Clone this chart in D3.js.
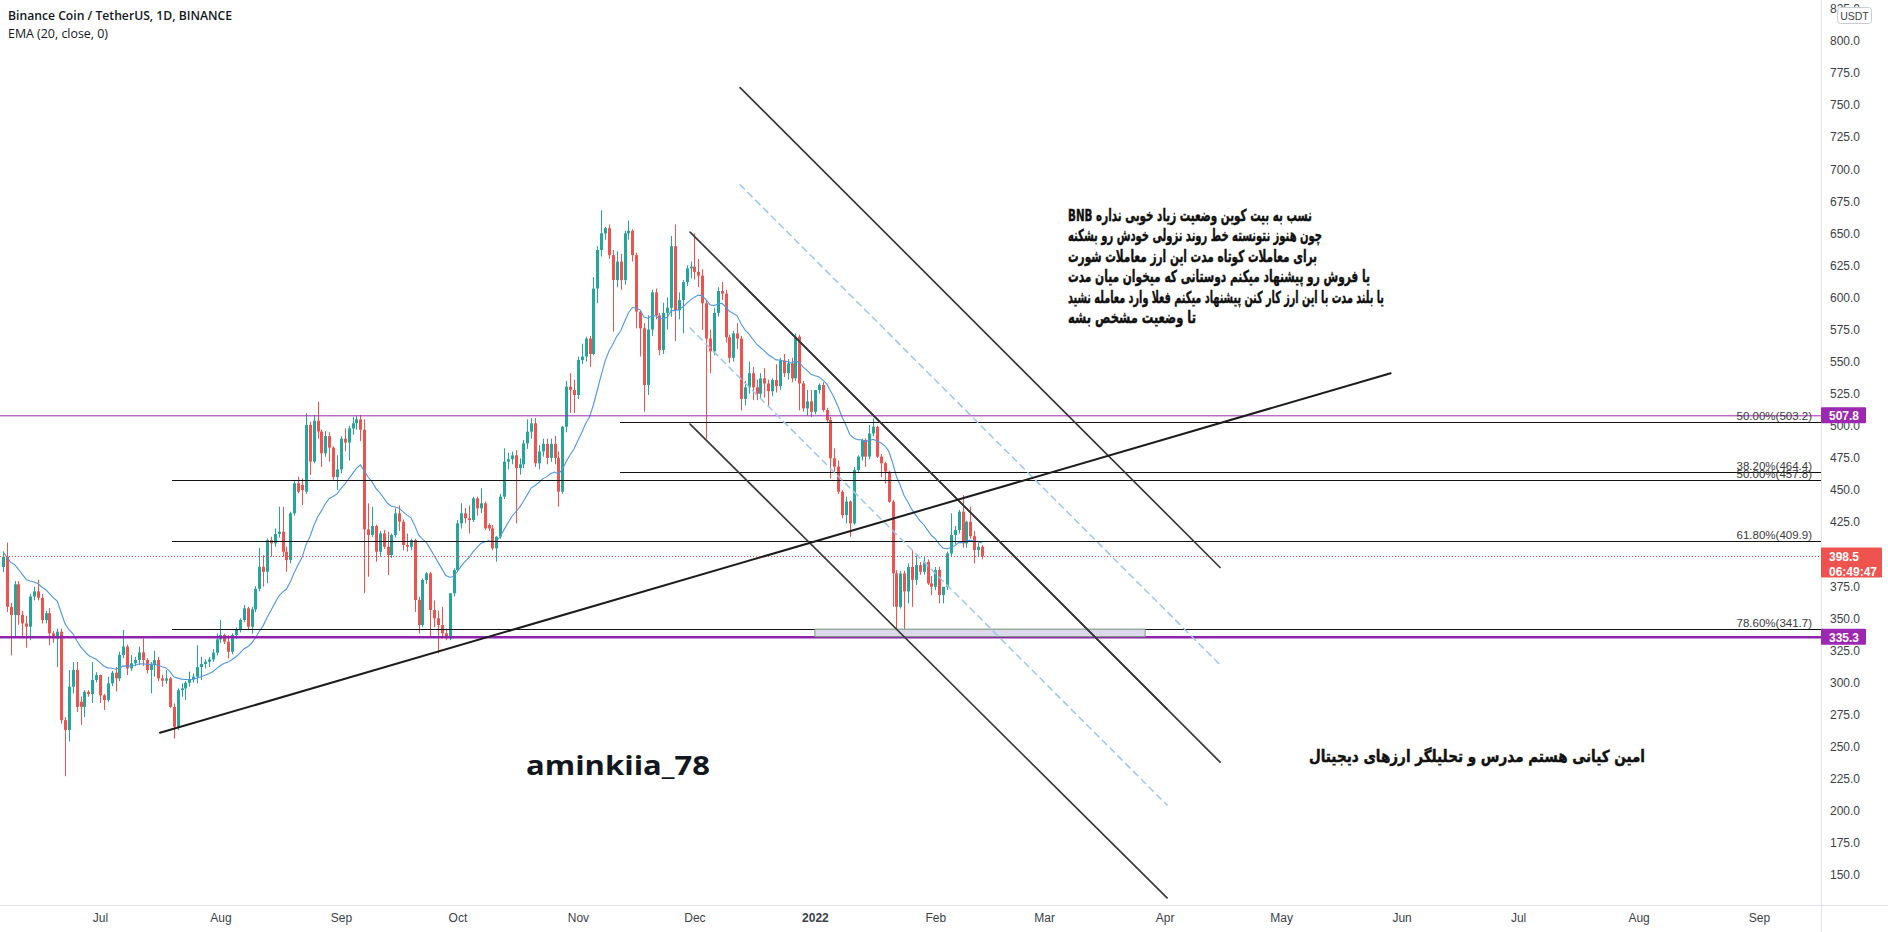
<!DOCTYPE html>
<html><head><meta charset="utf-8">
<script src="https://cdn.jsdelivr.net/npm/d3@7/dist/d3.min.js"></script>
<style>
html,body{margin:0;padding:0;background:#fff;overflow:hidden}
svg{display:block}
</style></head><body>
<svg id="chart" width="1888" height="932"></svg>
<script>
// ---------------- DATA ----------------
const startDate = "2021-06-06";   // first daily candle
const opens = [390,398,359,352.6,376.5,352.6,346,343.5,367,371,
366,348.7,354,338.3,334.4,339.6,270.7,263,296.7,309.7,
285,281,292.8,291,302,305.8,290,286.3,299.3,307.6,
303.2,321.4,328,311,315,317.5,323.5,317.5,309.7,313.6,
317.5,303.2,301.4,303.2,281,265.5,294,295.4,299.8,302.4,
304.5,312,314.4,316.2,318,323.2,333.6,337,331.8,324,
337,340.9,348.7,357.8,343.5,357,373,390.2,386.3,411,
408.4,415.7,417.5,401.9,395.4,431.8,455.2,453.9,448.7,500.7,
472.1,504,495.5,478.6,492,483,460,466,490,487,
498,502,505,497,419.3,414.9,421.9,401.9,416.2,405.8,
399.3,414.9,431.8,425.3,407.1,405.8,411,364.3,344.8,379.9,
385,356.5,350,344.8,338.3,334.4,369.5,387.6,424,431.8,
428,426.6,443.5,435.7,439.6,422.7,420.1,404.5,413.6,444.8,
472.1,474,477,467,470,486.3,495.4,502,470.8,480,
486,475,486,475,448.7,499.3,530.5,528,524,551.3,
554,568,556,607,637,650,654,633,613.6,628,
613.6,650,652,633,589,576,531.8,575,604,586,
559,588,592,640,590,598,612,622.7,624,620,
617,595.5,568,558,588,605,603,569,553,572,
568,521,530,541,530,525,537,533,527,535.7,
531,551,541,548.7,537,569.5,533,513.6,519,511,
527.9,531.8,512.3,504.5,474.7,468.2,448.7,430.5,441,424,
465.6,476,489,476,494,499.3,476,470.8,464.3,440.9,
385,359,385,371,390,380,391.5,386.3,394,377.2,
374.6,387.6,368.1,374.6,400.6,414.9,418.8,433.1,408.4,425.3,
414,403.2,405.8];
const highs = [402,409,362,379,379,356,352,369,374.6,380,
369,356,358,340,342,342,273,309.7,316,316,
289,294,294,316,308,306,291,304.5,309,312,
324,341,329.5,321.4,320,328,334.4,319,316,324.8,
320,306,309.7,304.5,283.7,295.4,299.3,301,308.4,307,
329,320,318,320,326,338.3,348.7,338,337,338.3,
343,350,360.4,359,359,375,405,399.3,412.3,413.6,
420.1,437,437,405.8,433.1,457.8,460.4,459.1,509.8,503.3,
508.5,518.8,497,496,495,484,477,492,498,500,
507,508,508.5,505,439.6,437,423,418,419,417.5,
416,435.7,438,427,416,412,412,366.9,381,386,
386.3,364,356,359,342,369.5,389,426.6,439.6,436,
438,444.8,444.8,451.3,441,424,422.7,414,447,482.5,
479,480,481,474.7,489,505,506,506,485,490,
490,490,492,480,500,535,541,536,554,564,
569.5,570,616,640,668,655,657,637,636,634,
652,660,653,635,590,580,586,606,607,588,
596,600,648,657,604,613.6,625,628,650,630,
622,598,575,592,608,612,606,571,574,580,
570,535,550,546,536,541,545,536,537,548,
553,556,552,553,572,571,535,528,528,528,
533,534,514,507,482.5,473,450,444.8,442,468,
477,490,490.2,500.6,505.8,500,478,472,465,442.2,
387.6,387,387,392.8,403,399,394,398,396,383,
390,390.2,372,402,431.8,422,434.4,446.1,426,437,
418,409,407];
const lows = [386,355,321,336,345,336,327,333,364,364,
346,346,329,331,312,268,227,254,291.5,277,
267,273,289,284,300,284,278.5,285,297,293,
301,319,305.8,309,313,313.6,313,307,291.5,304.5,
301,296.7,299,280,256.4,263,288.9,286.3,296.7,300,
299.3,302,311,312,316,321,331,330,318.8,322,
334,339,347,340.9,338,355,371,374.7,377.3,398,
405.8,413,398,386.3,392.8,430,447.4,438.3,447,461.7,
470.8,490,468,476,472,458,450,463,480,473,
493,497,488,369.5,382.4,413.6,394.1,398,404,383.7,
397,413,418,403,402,403,355,338.3,343,377,
335.7,343,322.7,334.4,333,333,367,386,420,424,
416,425,430,432,418.8,418,403,394.1,412,443,
466,470,424,462,467,482,490,468,466,476,
470,472,470,437,447,495,510,510,521,548,
550,546,555,595.5,632,645,630,573.4,608,606,
610,645,628,576,554,511,524,570,583,555,
556,575,585,566,583,572,609,615,614,608,
574.7,490,541,555,585,598,565,549,550,560,
512,516,525,520,520,521,522,515,523,526,
528,538,536,534,535,512,511,508,507,509,
525,511,503,459,463,447,428,424,413.6,423,
463,473,468,474,492,475,460,455,440,359,
341,357.7,336,361.6,359,376,384,384,376,368,
372,361.6,361.6,372,398,408,416,405,405,412,
392.8,398,396];
const closes = [398,359,352.6,376.5,352.6,346,343.5,367,371,366,
348.7,354,338.3,334.4,339.6,270.7,263,296.7,309.7,281,
281,292.8,291,302,305.8,290,286.3,299.3,307.6,303.2,
321.4,328,311,315,317.5,323.5,317.5,309.7,313.6,317.5,
303.2,301.4,303.2,281,265.5,294,295.4,299.8,302.4,304.5,
312,314.4,316.2,318,323.2,333.6,337,331.8,324,337,
340.9,348.7,357.8,343.5,357,373,390.2,386.3,411,408.4,
415.7,417.5,401.9,395.4,431.8,455.2,448.7,450,500.7,472.1,
504,495.5,478.6,492,483,460,466,490,487,498,
502,505,497,419.3,414.9,421.9,401.9,416.2,405.8,399.3,
414.9,431.8,425.3,407.1,405.8,411,364.3,344.8,379.9,385,
356.5,350,344.8,338.3,334.4,369.5,387.6,424,431.8,428,
426.6,443.5,435.7,439.6,420.1,420.1,404.5,413.6,444.8,472.1,
474,477,467,470,486.3,495.4,502,470.8,480,486,
475,486,475,448.7,499.3,530.5,528,524,551.3,554,
568,556,607,637,650,654,633,613.6,628,613.6,
650,652,633,589,576,531.8,575,604,586,559,
588,592,640,590,598,612,622.7,624,620,617,
595.5,568,558,588,605,603,569,553,572,568,
521,530,541,530,525,537,533,527,535.7,531,
551,541,548.7,537,569.5,533,513.6,519,511,527.9,
531.8,512.3,504.5,474.7,468.2,448.7,430.5,441,424,465.6,
476,489,476,494,499.3,476,470.8,464.3,440.9,385,
359,385,371,390,380,391.5,386.3,394,377.2,374.6,
387.6,368.1,374.6,400.6,414.9,418.8,433.1,408.4,425.3,414,
403.2,405.8,398.5];

const emaLength = 20;
const emaStart = 402;        // EMA value read at the left edge of the chart

const priceTicks = [825,800,775,750,725,700,675,650,625,600,575,550,525,500,475,450,425,400,375,350,325,300,275,250,225,200,175,150];
const monthTicks = ["2021-07-01","2021-08-01","2021-09-01","2021-10-01","2021-11-01","2021-12-01","2022-01-01","2022-02-01","2022-03-01","2022-04-01","2022-05-01","2022-06-01","2022-07-01","2022-08-01","2022-09-01"];
const monthLabels = ["Jul","Aug","Sep","Oct","Nov","Dec","2022","Feb","Mar","Apr","May","Jun","Jul","Aug","Sep"];

const fibStarts = ["2021-11-11T20:00Z","2021-11-11T20:00Z","2021-07-19T13:00Z","2021-07-19T13:00Z","2021-07-19T13:00Z"];
const fibValues = [503.2,464.4,457.8,409.9,341.7];
const fibLabels = ["50.00%(503.2)","38.20%(464.4)","50.00%(457.8)","61.80%(409.9)","78.60%(341.7)"];

const levelValues = [507.8,335.3];
const lastPrice = 398.5;
const countdown = "06:49:47";

// trend lines: [startDate, startPrice, endDate, endPrice]
const supportLine = ["2021-07-16T10:30Z",260.8,"2022-05-29T04:30Z",541.0];
const channelA = [ // solid top, dashed middle, solid bottom
  ["2021-11-29T21:00Z",651.0,"2022-04-01T15:30Z",279.3],
  ["2021-11-29T21:00Z",576.2,"2022-04-01T15:30Z",204.5],
  ["2021-11-29T21:00Z",501.4,"2022-04-01T15:30Z",132.1]];
const channelB = [
  ["2021-12-12T18:00Z",763.6,"2022-04-15T07:00Z",389.6],
  ["2021-12-12T18:00Z",687.8,"2022-04-15T07:00Z",313.8],
  ["2021-12-12T18:00Z",612.0,"2022-04-15T07:00Z",238.0]];
const zoneBox = ["2022-01-01",341.6,"2022-03-27",335.8];

const titleText = "Binance Coin / TetherUS, 1D, BINANCE";
const emaText = "EMA (20, close, 0)";
const noteLines = [
  "BNB نسب به بیت کوین وضعیت زیاد خوبی نداره",
  "چون هنوز نتونسته خط روند نزولی خودش رو بشکنه",
  "برای معاملات کوتاه مدت این ارز معاملات شورت",
  "یا فروش رو پیشنهاد میکنم دوستانی که میخوان میان مدت",
  "یا بلند مدت با این ارز کار کنن پیشنهاد میکنم فعلا وارد معامله نشید",
  "تا وضعیت مشخص بشه"];
const noteWidths = [244, 254, 249, 302, 316, 128];
const authorText = "aminkiia_78";
const signatureText = "امین کیانی هستم مدرس و تحلیلگر ارزهای دیجیتال";

// ---------------- CHART ----------------
const W = 1888, H = 932, plotR = 1821, plotB = 905;
const UP = "#26a69a", DOWN = "#ef5350", PURPLE = "#9c27b0";
const iso = d3.isoParse;
const day = d3.utcParse("%Y-%m-%d");
const svg = d3.select("#chart");

const x = d3.scaleUtc().domain([day("2021-07-01"), day("2022-09-01")]).range([100, 1759]);
const y = d3.scaleLinear().domain([450, 150]).range([490, 875]);
const pd = s => s.length > 10 ? iso(s) : day(s);

svg.append("defs").append("clipPath").attr("id","plotclip")
  .append("rect").attr("x",0).attr("y",0).attr("width",plotR).attr("height",plotB);

const n = Math.min(opens.length, highs.length, lows.length, closes.length);
const t0 = day(startDate);
const candles = d3.range(n).map(i => ({d: d3.utcDay.offset(t0, i), o: opens[i], h: highs[i], l: lows[i], c: closes[i]}));

const plot = svg.append("g").attr("clip-path","url(#plotclip)");

// candles
const cg = plot.append("g");
cg.selectAll("line").data(candles).join("line")
  .attr("x1", d => Math.round(x(d.d)) + 0.5).attr("x2", d => Math.round(x(d.d)) + 0.5)
  .attr("y1", d => y(d.h)).attr("y2", d => y(d.l))
  .attr("stroke", d => d.c >= d.o ? UP : DOWN).attr("stroke-width", 1);
cg.selectAll("rect").data(candles).join("rect")
  .attr("x", d => Math.round(x(d.d)) - 1).attr("width", 3)
  .attr("y", d => y(Math.max(d.o, d.c)))
  .attr("height", d => Math.max(1, Math.abs(y(d.o) - y(d.c))))
  .attr("fill", d => d.c >= d.o ? UP : DOWN);

// EMA 20 of close
const k = 2 / (emaLength + 1);
const ema = [];
candles.forEach((d, i) => ema.push(i === 0 ? emaStart : k * d.c + (1 - k) * ema[i - 1]));
plot.append("path").datum(candles)
  .attr("fill","none").attr("stroke","#4f97e3").attr("stroke-width",1.1)
  .attr("d", d3.line().x(d => x(d.d)).y((d, i) => y(ema[i])).curve(d3.curveLinear));

// horizontal price levels
plot.append("line").attr("x1",0).attr("x2",plotR)
  .attr("y1", y(levelValues[0])).attr("y2", y(levelValues[0]))
  .attr("stroke", PURPLE).attr("stroke-width", 1);
plot.append("line").attr("x1",0).attr("x2",plotR)
  .attr("y1", y(levelValues[1])).attr("y2", y(levelValues[1]))
  .attr("stroke", "#8e24aa").attr("stroke-width", 2.4);
plot.append("line").attr("x1",0).attr("x2",plotR)
  .attr("y1", Math.round(y(lastPrice)) + 0.5).attr("y2", Math.round(y(lastPrice)) + 0.5)
  .attr("stroke", DOWN).attr("stroke-width", 1).attr("stroke-dasharray","1,2");

// fib levels
const fg = plot.append("g");
fibValues.forEach((v, i) => {
  const yy = Math.round(y(v)) + 0.5;
  fg.append("line").attr("x1", x(iso(fibStarts[i]))).attr("x2", plotR)
    .attr("y1", yy).attr("y2", yy).attr("stroke","#111").attr("stroke-width",1);
  fg.append("text").attr("x", 1812).attr("y", yy - 3).attr("text-anchor","end")
    .attr("font-family","Liberation Sans, Arial, sans-serif").attr("font-size",11.5)
    .attr("fill","#3a3a3a").text(fibLabels[i]);
});

// zone box
plot.append("rect")
  .attr("x", x(pd(zoneBox[0]))).attr("y", y(zoneBox[1]))
  .attr("width", x(pd(zoneBox[2])) - x(pd(zoneBox[0])))
  .attr("height", y(zoneBox[3]) - y(zoneBox[1]))
  .attr("fill","#dcd9ea").attr("stroke","#7f9a84").attr("stroke-width",1);

// trend lines
const seg = (g, s, color, w, dash) => g.append("line")
  .attr("x1", x(pd(s[0]))).attr("y1", y(s[1])).attr("x2", x(pd(s[2]))).attr("y2", y(s[3]))
  .attr("stroke", color).attr("stroke-width", w).attr("stroke-dasharray", dash || null)
  .attr("stroke-linecap","round");
const tg = plot.append("g");
[channelA, channelB].forEach(ch => {
  seg(tg, ch[0], "#3a3a3a", 1.7);
  seg(tg, ch[1], "#9cc6ee", 1.5, "6,5");
  seg(tg, ch[2], "#3a3a3a", 1.7);
});
seg(tg, supportLine, "#1c1c1c", 2);

// frame lines
svg.append("line").attr("x1", plotR + 0.5).attr("x2", plotR + 0.5).attr("y1", 0).attr("y2", H)
  .attr("stroke","#e0e3eb").attr("stroke-width",1);
svg.append("line").attr("x1", 0).attr("x2", W).attr("y1", plotB + 0.5).attr("y2", plotB + 0.5)
  .attr("stroke","#e0e3eb").attr("stroke-width",1);

// price axis
const yAxis = svg.append("g").attr("transform", `translate(${plotR},0)`)
  .call(d3.axisRight(y).tickValues(priceTicks).tickFormat(d3.format(".1f")).tickSize(0).tickPadding(9));
yAxis.select(".domain").remove();
yAxis.selectAll("text").attr("font-family","Liberation Sans, Arial, sans-serif")
  .attr("font-size",12).attr("fill","#3b3f48");

// time axis
const xAxis = svg.append("g").attr("transform", `translate(0,${plotB})`)
  .call(d3.axisBottom(x).tickValues(monthTicks.map(day)).tickFormat((d, i) => monthLabels[i]).tickSize(0).tickPadding(8));
xAxis.select(".domain").remove();
xAxis.selectAll("text").attr("font-family","Liberation Sans, Arial, sans-serif")
  .attr("font-size",12).attr("fill","#3b3f48")
  .attr("font-weight", (d, i) => monthLabels[i] === "2022" ? "bold" : null);

// price badges
const badge = (v, color, w, h, lines) => {
  const yy = y(v);
  svg.append("rect").attr("x", plotR).attr("y", yy - 8.5).attr("width", w).attr("height", h)
    .attr("fill", color).attr("rx", 1);
  lines.forEach((t, i) => svg.append("text").attr("x", plotR + 8).attr("y", yy + 4.5 + i * 15)
    .attr("font-family","Liberation Sans, Arial, sans-serif").attr("font-size",12)
    .attr("font-weight","bold").attr("fill","#fff").text(t));
};
badge(levelValues[0], PURPLE, 45, 16, [d3.format(".1f")(levelValues[0])]);
badge(levelValues[1], PURPLE, 45, 16, [d3.format(".1f")(levelValues[1])]);
badge(lastPrice, "#ef5350", 61, 30, [d3.format(".1f")(lastPrice), countdown]);

// USDT box
svg.append("rect").attr("x", 1837.5).attr("y", 7.5).attr("width", 34).attr("height", 16)
  .attr("rx", 3).attr("fill", "#fff").attr("stroke", "#c9ccd3");
svg.append("text").attr("x", 1854.5).attr("y", 19.5).attr("text-anchor","middle")
  .attr("font-family","Liberation Sans, Arial, sans-serif").attr("font-size",10.5).attr("fill","#3b3f48").text("USDT");

// legend text
svg.append("text").attr("x", 8).attr("y", 20)
  .attr("font-family","Open Sans, sans-serif").attr("font-size",13).attr("font-weight",600)
  .attr("fill","#131722").attr("textLength",224).attr("lengthAdjust","spacingAndGlyphs").text(titleText);
svg.append("text").attr("x", 8).attr("y", 38)
  .attr("font-family","Open Sans, sans-serif").attr("font-size",13)
  .attr("fill","#131722").attr("textLength",100).attr("lengthAdjust","spacingAndGlyphs").text(emaText);

// notes
const ng = svg.append("g");
noteLines.forEach((t, i) => ng.append("text").attr("x", 1068).attr("y", 221 + i * 20.4)
  .attr("font-family","DejaVu Sans, sans-serif").attr("font-size",16.5).attr("font-weight","bold")
  .attr("fill","#111").attr("stroke","#111").attr("stroke-width",0.45).attr("direction","ltr")
  .attr("textLength", noteWidths[i]).attr("lengthAdjust","spacingAndGlyphs").text(t));

svg.append("text").attr("x", 526).attr("y", 775)
  .attr("font-family","Open Sans, sans-serif").attr("font-size",27).attr("font-weight",700)
  .attr("fill","#131722").attr("textLength",184).attr("lengthAdjust","spacingAndGlyphs").text(authorText);

svg.append("text").attr("x", 1309).attr("y", 762)
  .attr("font-family","DejaVu Sans, sans-serif").attr("font-size",16.5).attr("font-weight","bold")
  .attr("fill","#111").attr("stroke","#111").attr("stroke-width",0.45)
  .attr("textLength",336).attr("lengthAdjust","spacingAndGlyphs").text(signatureText);
</script>
</body></html>
